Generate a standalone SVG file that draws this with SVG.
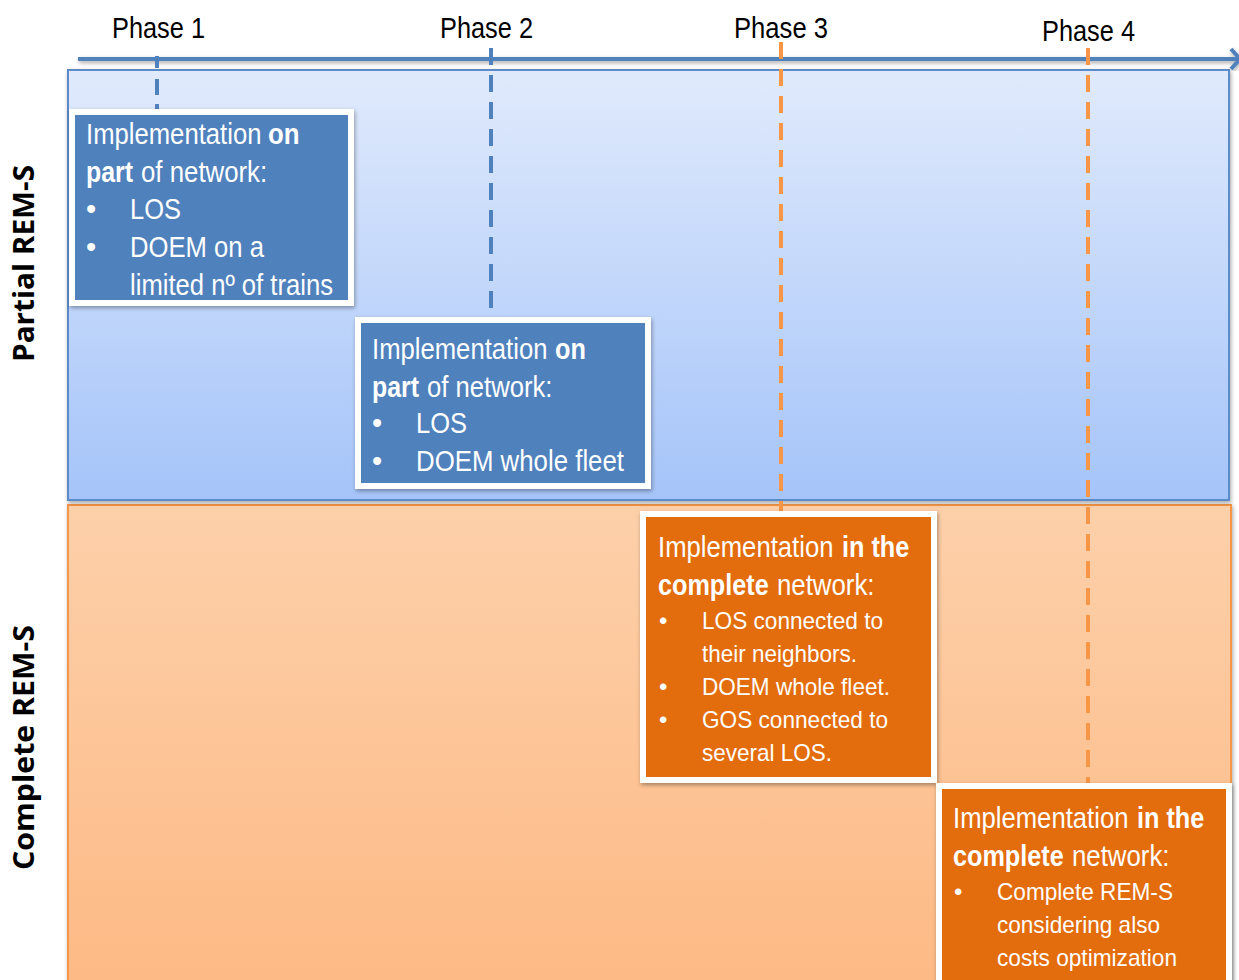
<svg xmlns="http://www.w3.org/2000/svg" width="1239" height="980" viewBox="0 0 1239 980">
<defs>
<linearGradient id="gBlue" x1="0" y1="0" x2="0" y2="1">
<stop offset="0" stop-color="#E0EAFC"/>
<stop offset="1" stop-color="#A5C4F9"/>
</linearGradient>
<linearGradient id="gOrange" x1="0" y1="0" x2="0" y2="1">
<stop offset="0" stop-color="#FDD0AA"/>
<stop offset="1" stop-color="#FDB984"/>
</linearGradient>
<filter id="shadow" x="-10%" y="-10%" width="120%" height="120%">
<feDropShadow dx="1" dy="2" stdDeviation="2" flood-color="#000" flood-opacity="0.35"/>
</filter>
<style>
.phase{font-family:"Liberation Sans",Arial,sans-serif;font-size:29px;fill:#000}
.side{font-family:"Open Sans","Liberation Sans",sans-serif;font-weight:700;font-size:28px;fill:#000}
.t{font-family:"Liberation Sans",Arial,sans-serif;font-size:29px;fill:#fff}
.s{font-family:"Liberation Sans",Arial,sans-serif;font-size:24px;fill:#fff}
.b{font-weight:700}
.boxB{fill:#4F81BD;stroke:#fff;stroke-width:6;filter:url(#shadow)}
.boxO{fill:#E36C0A;stroke:#fff;stroke-width:6;filter:url(#shadow)}
.dashB{stroke:#4F81BD;stroke-width:4;stroke-dasharray:17 10;fill:none}
.dashO{stroke:#F79646;stroke-width:4;stroke-dasharray:17 10;fill:none}
</style>
</defs>
<rect width="1239" height="980" fill="#fff"/>

<g id="bands">
<rect x="68" y="505" width="1163" height="490" fill="url(#gOrange)" stroke="#F79646" stroke-width="2" filter="url(#shadow)"/>
<rect x="68" y="70" width="1161" height="430" fill="url(#gBlue)" stroke="#5B8BC9" stroke-width="2" filter="url(#shadow)"/>
</g>

<g id="labels">
<text class="side" transform="translate(34,263.5) rotate(-90)" text-anchor="middle" textLength="197" lengthAdjust="spacingAndGlyphs">Partial REM-S</text>
<text class="side" transform="translate(34,747.5) rotate(-90)" text-anchor="middle" textLength="245" lengthAdjust="spacingAndGlyphs">Complete REM-S</text>
</g>

<g id="axis" filter="url(#shadow)">
<line x1="78" y1="59" x2="1238" y2="59" stroke="#4F81BD" stroke-width="4"/>
<polyline points="1231,49 1240,59 1231,69" fill="none" stroke="#4F81BD" stroke-width="4"/>
</g>

<g id="phases">
<text class="phase" x="112" y="38" textLength="93" lengthAdjust="spacingAndGlyphs">Phase 1</text>
<text class="phase" x="440" y="38" textLength="93" lengthAdjust="spacingAndGlyphs">Phase 2</text>
<text class="phase" x="734" y="38" textLength="94" lengthAdjust="spacingAndGlyphs">Phase 3</text>
<text class="phase" x="1042" y="41" textLength="93" lengthAdjust="spacingAndGlyphs">Phase 4</text>
</g>

<g id="connectors">
<line class="dashB" x1="157" y1="56" x2="157" y2="120" style="stroke-dasharray:12 11 16 9 20"/>
<line class="dashB" x1="491" y1="48" x2="491" y2="318"/>
<line class="dashO" x1="781" y1="42" x2="781" y2="511"/>
<line class="dashO" x1="1088" y1="48" x2="1088" y2="785"/>
</g>

<g id="phase1-box">
<rect class="boxB" x="72" y="112" width="279" height="191"/>
<text class="t" transform="translate(86,144) scale(0.885,1)">Implementation</text>
<text class="t b" transform="translate(268,144) scale(0.89,1)">on</text>
<text class="t b" transform="translate(86,182) scale(0.86,1)">part</text>
<text class="t" transform="translate(141,182) scale(0.89,1)">of network:</text>
<text class="t" x="86" y="219">•</text>
<text class="t" x="130" y="219" textLength="51" lengthAdjust="spacingAndGlyphs">LOS</text>
<text class="t" x="86" y="257">•</text>
<text class="t" x="130" y="257" textLength="134" lengthAdjust="spacingAndGlyphs">DOEM on a</text>
<text class="t" x="130" y="295" textLength="203" lengthAdjust="spacingAndGlyphs">limited nº of trains</text>
</g>

<g id="phase2-box">
<rect class="boxB" x="358" y="320" width="290" height="166"/>
<text class="t" transform="translate(372,359) scale(0.885,1)">Implementation</text>
<text class="t b" transform="translate(555,359) scale(0.87,1)">on</text>
<text class="t b" transform="translate(372,397) scale(0.86,1)">part</text>
<text class="t" transform="translate(427,397) scale(0.885,1)">of network:</text>
<text class="t" x="372" y="433">•</text>
<text class="t" x="416" y="433" textLength="51" lengthAdjust="spacingAndGlyphs">LOS</text>
<text class="t" x="372" y="471">•</text>
<text class="t" x="416" y="471" textLength="208" lengthAdjust="spacingAndGlyphs">DOEM whole fleet</text>
</g>

<g id="phase3-box">
<rect class="boxO" x="643" y="514" width="291" height="266"/>
<text class="t" transform="translate(658,557) scale(0.885,1)">Implementation</text>
<text class="t b" transform="translate(842,557) scale(0.87,1)">in the</text>
<text class="t b" transform="translate(658,595) scale(0.87,1)">complete</text>
<text class="t" transform="translate(777,595) scale(0.89,1)">network:</text>
<text class="s" x="659" y="629">•</text>
<text class="s" x="702" y="629" textLength="181" lengthAdjust="spacingAndGlyphs">LOS connected to</text>
<text class="s" x="702" y="662" textLength="155" lengthAdjust="spacingAndGlyphs">their neighbors.</text>
<text class="s" x="659" y="695">•</text>
<text class="s" x="702" y="695" textLength="188" lengthAdjust="spacingAndGlyphs">DOEM whole fleet.</text>
<text class="s" x="659" y="728">•</text>
<text class="s" x="702" y="728" textLength="186" lengthAdjust="spacingAndGlyphs">GOS connected to</text>
<text class="s" x="702" y="761" textLength="130" lengthAdjust="spacingAndGlyphs">several LOS.</text>
</g>

<g id="phase4-box">
<rect class="boxO" x="939" y="786" width="290" height="220"/>
<text class="t" transform="translate(953,828) scale(0.885,1)">Implementation</text>
<text class="t b" transform="translate(1137,828) scale(0.87,1)">in the</text>
<text class="t b" transform="translate(953,866) scale(0.87,1)">complete</text>
<text class="t" transform="translate(1072,866) scale(0.89,1)">network:</text>
<text class="s" x="954" y="900">•</text>
<text class="s" x="997" y="900" textLength="176" lengthAdjust="spacingAndGlyphs">Complete REM-S</text>
<text class="s" x="997" y="933" textLength="163" lengthAdjust="spacingAndGlyphs">considering also</text>
<text class="s" x="997" y="966" textLength="180" lengthAdjust="spacingAndGlyphs">costs optimization</text>
</g>
</svg>
